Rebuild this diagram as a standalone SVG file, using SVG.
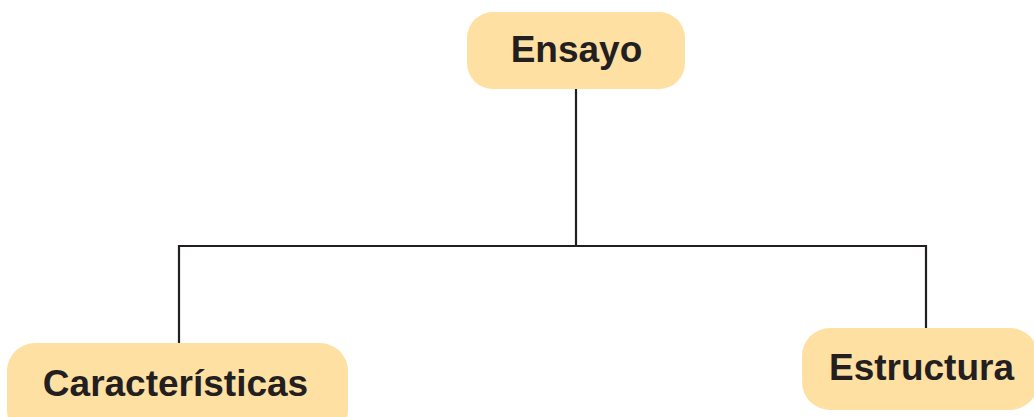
<svg xmlns="http://www.w3.org/2000/svg" width="1034" height="417" viewBox="0 0 1034 417">
<style>
.box{fill:#fee0a3;}
.lbl{font-family:"Liberation Sans",Arial,sans-serif;font-weight:bold;font-size:37px;fill:#231f20;text-anchor:middle;}
.con{fill:none;stroke:#231f20;stroke-width:2.2;}
</style>
<rect width="1034" height="417" fill="#ffffff"/>
<g id="connectors">
<path class="con" d="M576,89 V246"/>
<path class="con" d="M179,343 V246 H926 V328"/>
</g>
<g id="ensayo">
<rect class="box" x="467" y="12" width="218" height="77" rx="26"/>
<text class="lbl" x="576.5" y="62">Ensayo</text>
</g>
<g id="caracteristicas">
<rect class="box" x="7" y="343" width="341" height="95" rx="28"/>
<text class="lbl" x="175.5" y="396">Características</text>
</g>
<g id="estructura">
<rect class="box" x="802" y="328" width="236" height="82" rx="28"/>
<text class="lbl" x="921.5" y="380">Estructura</text>
</g>
</svg>
